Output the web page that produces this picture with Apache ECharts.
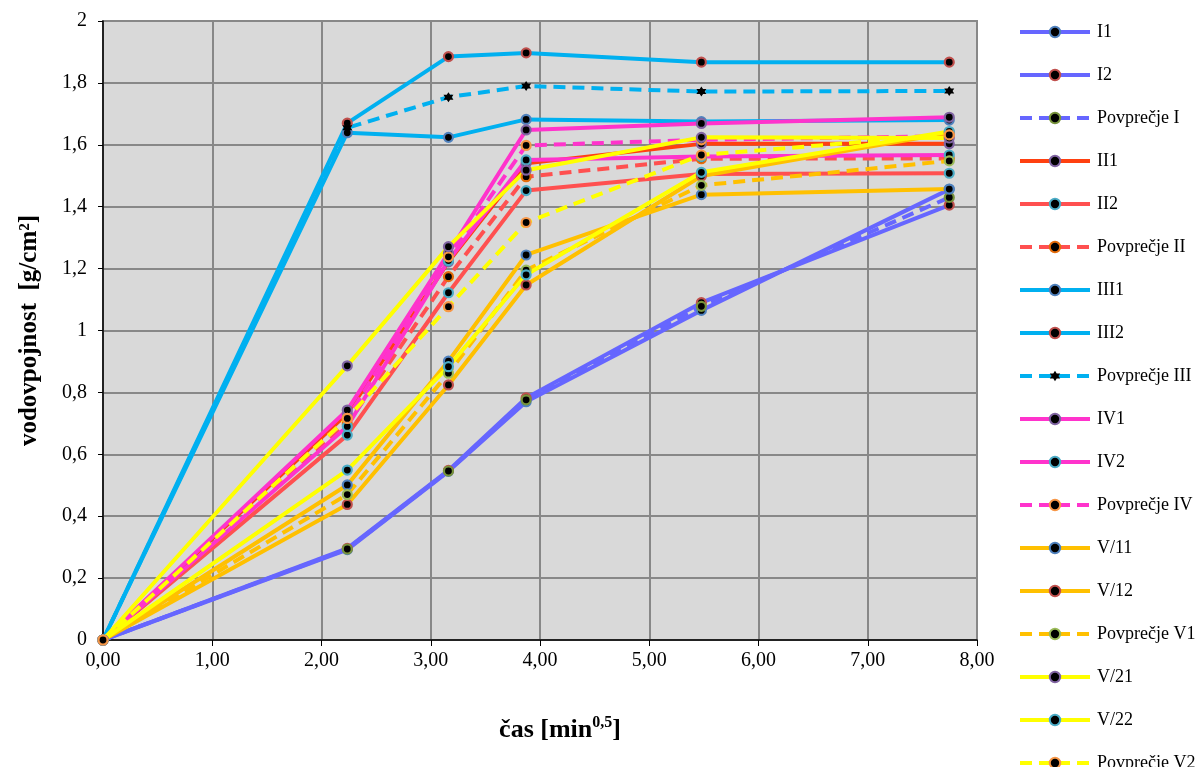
<!DOCTYPE html>
<html>
<head>
<meta charset="utf-8">
<script src="https://cdn.jsdelivr.net/npm/echarts@6/dist/echarts.min.js"></script>
<style>
  html, body { margin: 0; padding: 0; background: #fff; }
  #chart { width: 1199px; height: 767px; }
</style>
</head>
<body>
<div id="chart"></div>
<script>
// time axis: square root of minutes (0, 5, 10, 15, 30, 60 min)
const casX = [0, 2.236, 3.162, 3.873, 5.477, 7.746];

// water absorption [g/cm2]
const I1      = [0, 0.292, 0.545, 0.770, 1.065, 1.456];
const I2      = [0, 0.296, 0.548, 0.782, 1.090, 1.405];
const povpI   = [0, 0.294, 0.546, 0.776, 1.078, 1.430];
const II1     = [0, 0.732, 1.222, 1.540, 1.603, 1.603];
const II2     = [0, 0.662, 1.122, 1.452, 1.506, 1.508];
const povpII  = [0, 0.697, 1.174, 1.497, 1.555, 1.556];
const III1    = [0, 1.639, 1.624, 1.682, 1.675, 1.680];
const III2    = [0, 1.670, 1.885, 1.897, 1.867, 1.867];
const povpIII = [0, 1.655, 1.754, 1.790, 1.772, 1.774];
const IV1     = [0, 0.743, 1.250, 1.648, 1.669, 1.689];
const IV2     = [0, 0.690, 1.226, 1.551, 1.562, 1.567];
const povpIV  = [0, 0.716, 1.238, 1.598, 1.616, 1.628];
const V11     = [0, 0.501, 0.901, 1.244, 1.439, 1.457];
const V12     = [0, 0.438, 0.824, 1.147, 1.499, 1.639];
const povpV1  = [0, 0.470, 0.862, 1.195, 1.469, 1.548];
const V21     = [0, 0.886, 1.271, 1.518, 1.624, 1.622];
const V22     = [0, 0.549, 0.883, 1.180, 1.511, 1.643];
const povpV2  = [0, 0.716, 1.077, 1.349, 1.567, 1.632];

const FONT = '"Liberation Serif", "Times New Roman", serif';
const STAR = 'path://M0,-10 L2.9,-5 L8.7,-5 L5.8,0 L8.7,5 L2.9,5 L0,10 L-2.9,5 L-8.7,5 L-5.8,0 L-8.7,-5 L-2.9,-5 Z';

// name, values, line colour, marker ring colour, dashed?, marker
const defs = [
  ['I1', I1, '#6666FF', '#4F81BD', false],
  ['I2', I2, '#6666FF', '#C0504D', false],
  ['Povprečje I', povpI, '#6666FF', '#77933C', true],
  ['II1', II1, '#FF4010', '#8064A2', false],
  ['II2', II2, '#FF5050', '#4BACC6', false],
  ['Povprečje II', povpII, '#FF5050', '#E46C0A', true],
  ['III1', III1, '#00B0F0', '#4F81BD', false],
  ['III2', III2, '#00B0F0', '#C0504D', false],
  ['Povprečje III', povpIII, '#00B0F0', '#000000', true, STAR],
  ['IV1', IV1, '#FF33CC', '#8064A2', false],
  ['IV2', IV2, '#FF33CC', '#4BACC6', false],
  ['Povprečje IV', povpIV, '#FF33CC', '#F79646', true],
  ['V/11', V11, '#FFC000', '#4F81BD', false],
  ['V/12', V12, '#FFC000', '#C0504D', false],
  ['Povprečje V1', povpV1, '#FFC000', '#9BBB59', true],
  ['V/21', V21, '#FFFF00', '#8064A2', false],
  ['V/22', V22, '#FFFF00', '#4BACC6', false],
  ['Povprečje V2', povpV2, '#FFFF00', '#F79646', true]
];

const series = defs.map(([name, vals, color, ring, dashed, sym]) => ({
  name: name,
  type: 'line',
  data: vals.map((v, i) => [casX[i], v]),
  symbol: sym || 'circle',
  symbolSize: sym ? 10 : 9,
  showSymbol: true,
  lineStyle: { color: color, width: 4, type: dashed ? [12, 7] : 'solid' },
  itemStyle: { color: '#000', borderColor: ring, borderWidth: sym ? 0 : 2.2 },
  emphasis: { disabled: true },
  animation: false
}));

const chart = echarts.init(document.getElementById('chart'));
chart.setOption({
  animation: false,
  grid: {
    left: 103, right: 222, top: 21, bottom: 127,
    show: true, backgroundColor: '#D9D9D9', borderColor: '#8a8a8a', borderWidth: 2
  },
  legend: {
    orient: 'vertical',
    left: 1018, top: 23, height: 800, padding: 0,
    itemWidth: 70, itemHeight: 13, itemGap: 25,
    lineStyle: { width: 4 },
    textStyle: { fontFamily: FONT, fontSize: 18, color: '#000', padding: [0, 0, 0, 2] },
    data: defs.map(d => d[0])
  },
  xAxis: {
    type: 'value', min: 0, max: 8, interval: 1,
    name: '{b|čas [min}{s|0,5}{b|]}',
    nameLocation: 'middle', nameGap: 75,
    nameTextStyle: {
      padding: [0, 0, 0, 40],
      rich: {
        b: { fontFamily: FONT, fontSize: 26, fontWeight: 'bold', color: '#000', lineHeight: 30 },
        s: { fontFamily: FONT, fontSize: 16, fontWeight: 'bold', color: '#000', verticalAlign: 'top', lineHeight: 30, padding: [0, 0, 12, 0] }
      }
    },
    axisLine: { show: true, onZero: false, lineStyle: { color: '#000', width: 1.5 } },
    axisTick: { show: true, inside: false, length: 6, lineStyle: { color: '#000' } },
    axisLabel: {
      fontFamily: FONT, fontSize: 20, color: '#000', margin: 11,
      formatter: v => v.toFixed(2).replace('.', ',')
    },
    splitLine: { show: true, lineStyle: { color: '#888', width: 2 } }
  },
  yAxis: {
    type: 'value', min: 0, max: 2, interval: 0.2,
    name: 'vodovpojnost  [g/cm²]',
    nameLocation: 'middle', nameGap: 61, nameRotate: 90,
    nameTextStyle: { fontFamily: FONT, fontSize: 25, fontWeight: 'bold', color: '#000' },
    axisLine: { show: true, onZero: false, lineStyle: { color: '#000', width: 1.5 } },
    axisTick: { show: true, inside: false, length: 5, lineStyle: { color: '#000' } },
    axisLabel: {
      fontFamily: FONT, fontSize: 20, color: '#000', margin: 16,
      formatter: v => String(+v.toFixed(1)).replace('.', ',')
    },
    splitLine: { show: true, lineStyle: { color: '#888', width: 2 } }
  },
  series: series
});
</script>
</body>
</html>
